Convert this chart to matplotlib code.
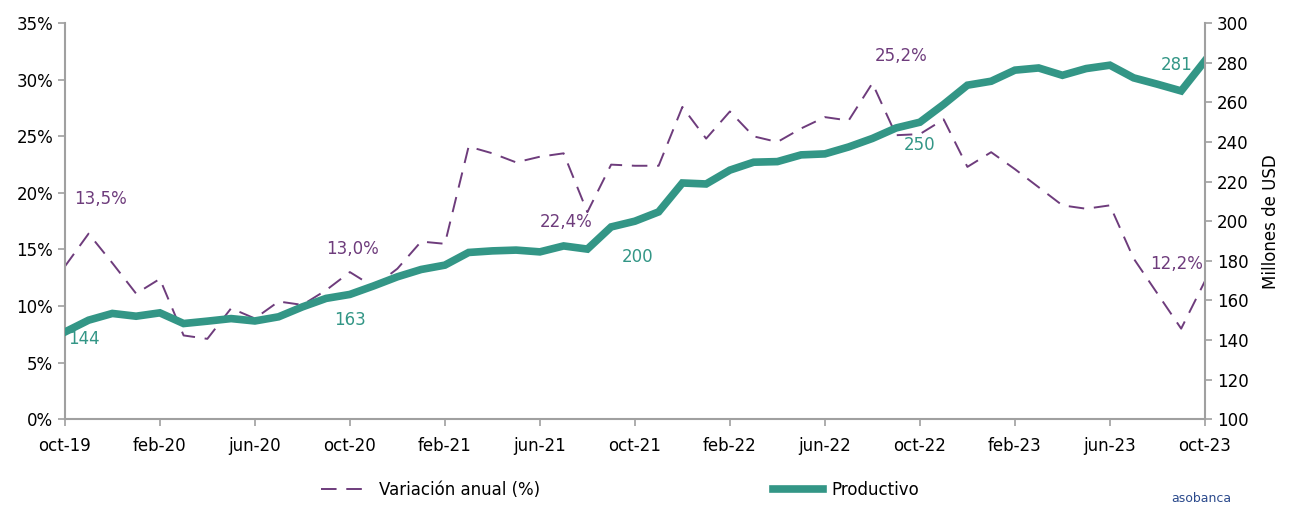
import matplotlib.pyplot as plt

plt.rcParams['font.family'] = ['DejaVu Sans']

# monthly, oct-19 .. oct-23
variacion = [13.5, 16.4, 13.8, 11.1, 12.4, 7.4, 7.1, 9.8, 8.9, 10.4,
             10.1, 11.4, 13.0, 11.7, 13.3, 15.7, 15.5, 24.1, 23.5, 22.7,
             23.2, 23.5, 18.3, 22.5, 22.4, 22.4, 27.6, 24.8, 27.2, 25.0,
             24.5, 25.7, 26.7, 26.4, 29.7, 25.1, 25.2, 26.5, 22.3, 23.6,
             22.1, 20.5, 18.9, 18.6, 18.9, 14.2, 11.1, 8.0, 12.2]
productivo = [144, 150, 153.4, 152, 153.7, 148.3, 149.5, 150.8, 149.6, 151.7,
              156.7, 161, 163, 167.3, 171.9, 175.6, 177.8, 184.2, 185, 185.4,
              184.5, 187.5, 185.9, 197.1, 200, 204.7, 219.3, 218.8, 225.8, 229.8,
              230.1, 233.5, 234, 237.5, 241.8, 247.1, 250, 259, 268.7, 270.7,
              276.3, 277.4, 273.7, 277.1, 278.8, 272.4, 269.2, 265.8, 281]
tick_labels = ['oct-19', 'feb-20', 'jun-20', 'oct-20', 'feb-21', 'jun-21', 'oct-21',
               'feb-22', 'jun-22', 'oct-22', 'feb-23', 'jun-23', 'oct-23']

purple = '#6e3c7c'
teal = '#339686'
grey = '#a0a0a0'

x = list(range(len(productivo)))

fig = plt.figure(figsize=(12.97, 5.05), dpi=100)
ax = fig.add_axes([0.050, 0.170, 0.879, 0.784])
ax2 = ax.twinx()

l1, = ax.plot(x, variacion, color=purple, lw=1.4, dashes=(8, 5))
l2, = ax2.plot(x, productivo, color=teal, lw=5.5, solid_joinstyle='miter')

ax.set_ylim(0, 35)
ax.set_yticks(range(0, 36, 5))
ax.set_yticklabels([f'{v}%' for v in range(0, 36, 5)])
ax2.set_ylim(100, 300)
ax2.set_yticks(range(100, 301, 20))
ax.set_xlim(0, 48)
ax.set_xticks(range(0, 49, 4))
ax.set_xticklabels(tick_labels)

fs = 12
for a in (ax, ax2):
    a.spines['top'].set_visible(False)
    for s in ('left', 'right', 'bottom'):
        a.spines[s].set_color(grey)
        a.spines[s].set_linewidth(1.5)
    a.tick_params(colors=grey, width=1.2, length=5, labelsize=fs, labelcolor='black')
ax.spines['right'].set_visible(False)
ax2.spines['left'].set_visible(False)
ax2.spines['bottom'].set_visible(False)
ax.tick_params(axis='x', pad=8)
ax2.set_ylabel('Millones de USD', fontsize=fs, labelpad=10)

# annotations
ax.text(1.5, 19.5, '13,5%', color=purple, fontsize=fs, ha='center', va='center')
ax2.text(0.8, 140.5, '144', color=teal, fontsize=fs, ha='center', va='center')
ax.text(12.1, 15.0, '13,0%', color=purple, fontsize=fs, ha='center', va='center')
ax2.text(12, 150, '163', color=teal, fontsize=fs, ha='center', va='center')
ax.text(21.1, 17.4, '22,4%', color=purple, fontsize=fs, ha='center', va='center')
ax2.text(24.1, 182, '200', color=teal, fontsize=fs, ha='center', va='center')
ax.text(35.2, 32.1, '25,2%', color=purple, fontsize=fs, ha='center', va='center')
ax2.text(36, 238.5, '250', color=teal, fontsize=fs, ha='center', va='center')
ax2.text(46.8, 279, '281', color=teal, fontsize=fs, ha='center', va='center')
ax.text(46.8, 13.7, '12,2%', color=purple, fontsize=fs, ha='center', va='center')

fig.legend([l1, l2], ['Variación anual (%)', 'Productivo'], loc='center',
           bbox_to_anchor=(0.478, 0.03), ncol=2, frameon=False, fontsize=fs,
           handlelength=3, handletextpad=0.5, columnspacing=14)

fig.text(0.903, 0.012, 'asobanca', color='#2b4a8c', fontsize=9, ha='left', va='center')

fig.savefig('out.png', dpi=100)
